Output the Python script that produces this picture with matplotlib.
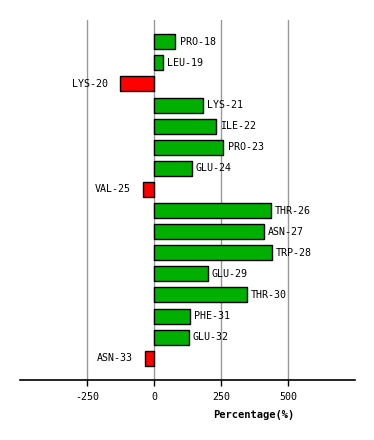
import numpy as np
import matplotlib
matplotlib.use("Agg")
import matplotlib.pyplot as plt

residues = ["PRO-18", "LEU-19", "LYS-20", "LYS-21", "ILE-22", "PRO-23", "GLU-24",
            "VAL-25", "THR-26", "ASN-27", "TRP-28", "GLU-29", "THR-30", "PHE-31",
            "GLU-32", "ASN-33"]
values = [79, 34, -127, 181, 230, 259, 140, -41, 436, 409, 440, 200, 346, 133, 129, -34]
ticks = [-250, 0, 250, 500]

plt.rcParams['font.family'] = 'DejaVu Sans Mono'

fig = plt.figure(figsize=(3.74, 4.40), dpi=100)
ax = fig.add_axes([20/374, 1-380/440, 335/374, 360/440])

y = np.arange(len(residues))
colors = ['#00b000' if v >= 0 else '#ff0000' for v in values]
ax.barh(y, values, height=0.71, color=colors, edgecolor='black', linewidth=1.0, zorder=3)

# labels beside the bar ends
for yi, v, name in zip(y, values, residues):
    if v >= 0:
        ax.annotate(name, (v, yi), xytext=(3, 0), textcoords='offset points',
                    ha='left', va='center', fontsize=7.2)
    else:
        ax.annotate(name, (v, yi), xytext=(-9, 0), textcoords='offset points',
                    ha='right', va='center', fontsize=7.2)

ax.set_xlim(-502, 751)
ax.set_ylim(16.03, -1.03)
ax.set_xticks(ticks)
ax.set_xticklabels([str(t) for t in ticks], fontsize=7.2)
ax.set_yticks([])
for t in ticks:
    ax.axvline(t, color='#999999', linewidth=1.0, zorder=1)
for s in ['top', 'right', 'left']:
    ax.spines[s].set_visible(False)
ax.spines['bottom'].set_linewidth(1.2)
ax.tick_params(axis='x', length=4.5, width=1.0, pad=4)

fig.text(254/374, 1-415/440, "Percentage(%)", fontsize=7.5, fontweight='bold',
         ha='center', va='center')

fig.savefig("out.png", dpi=100)
